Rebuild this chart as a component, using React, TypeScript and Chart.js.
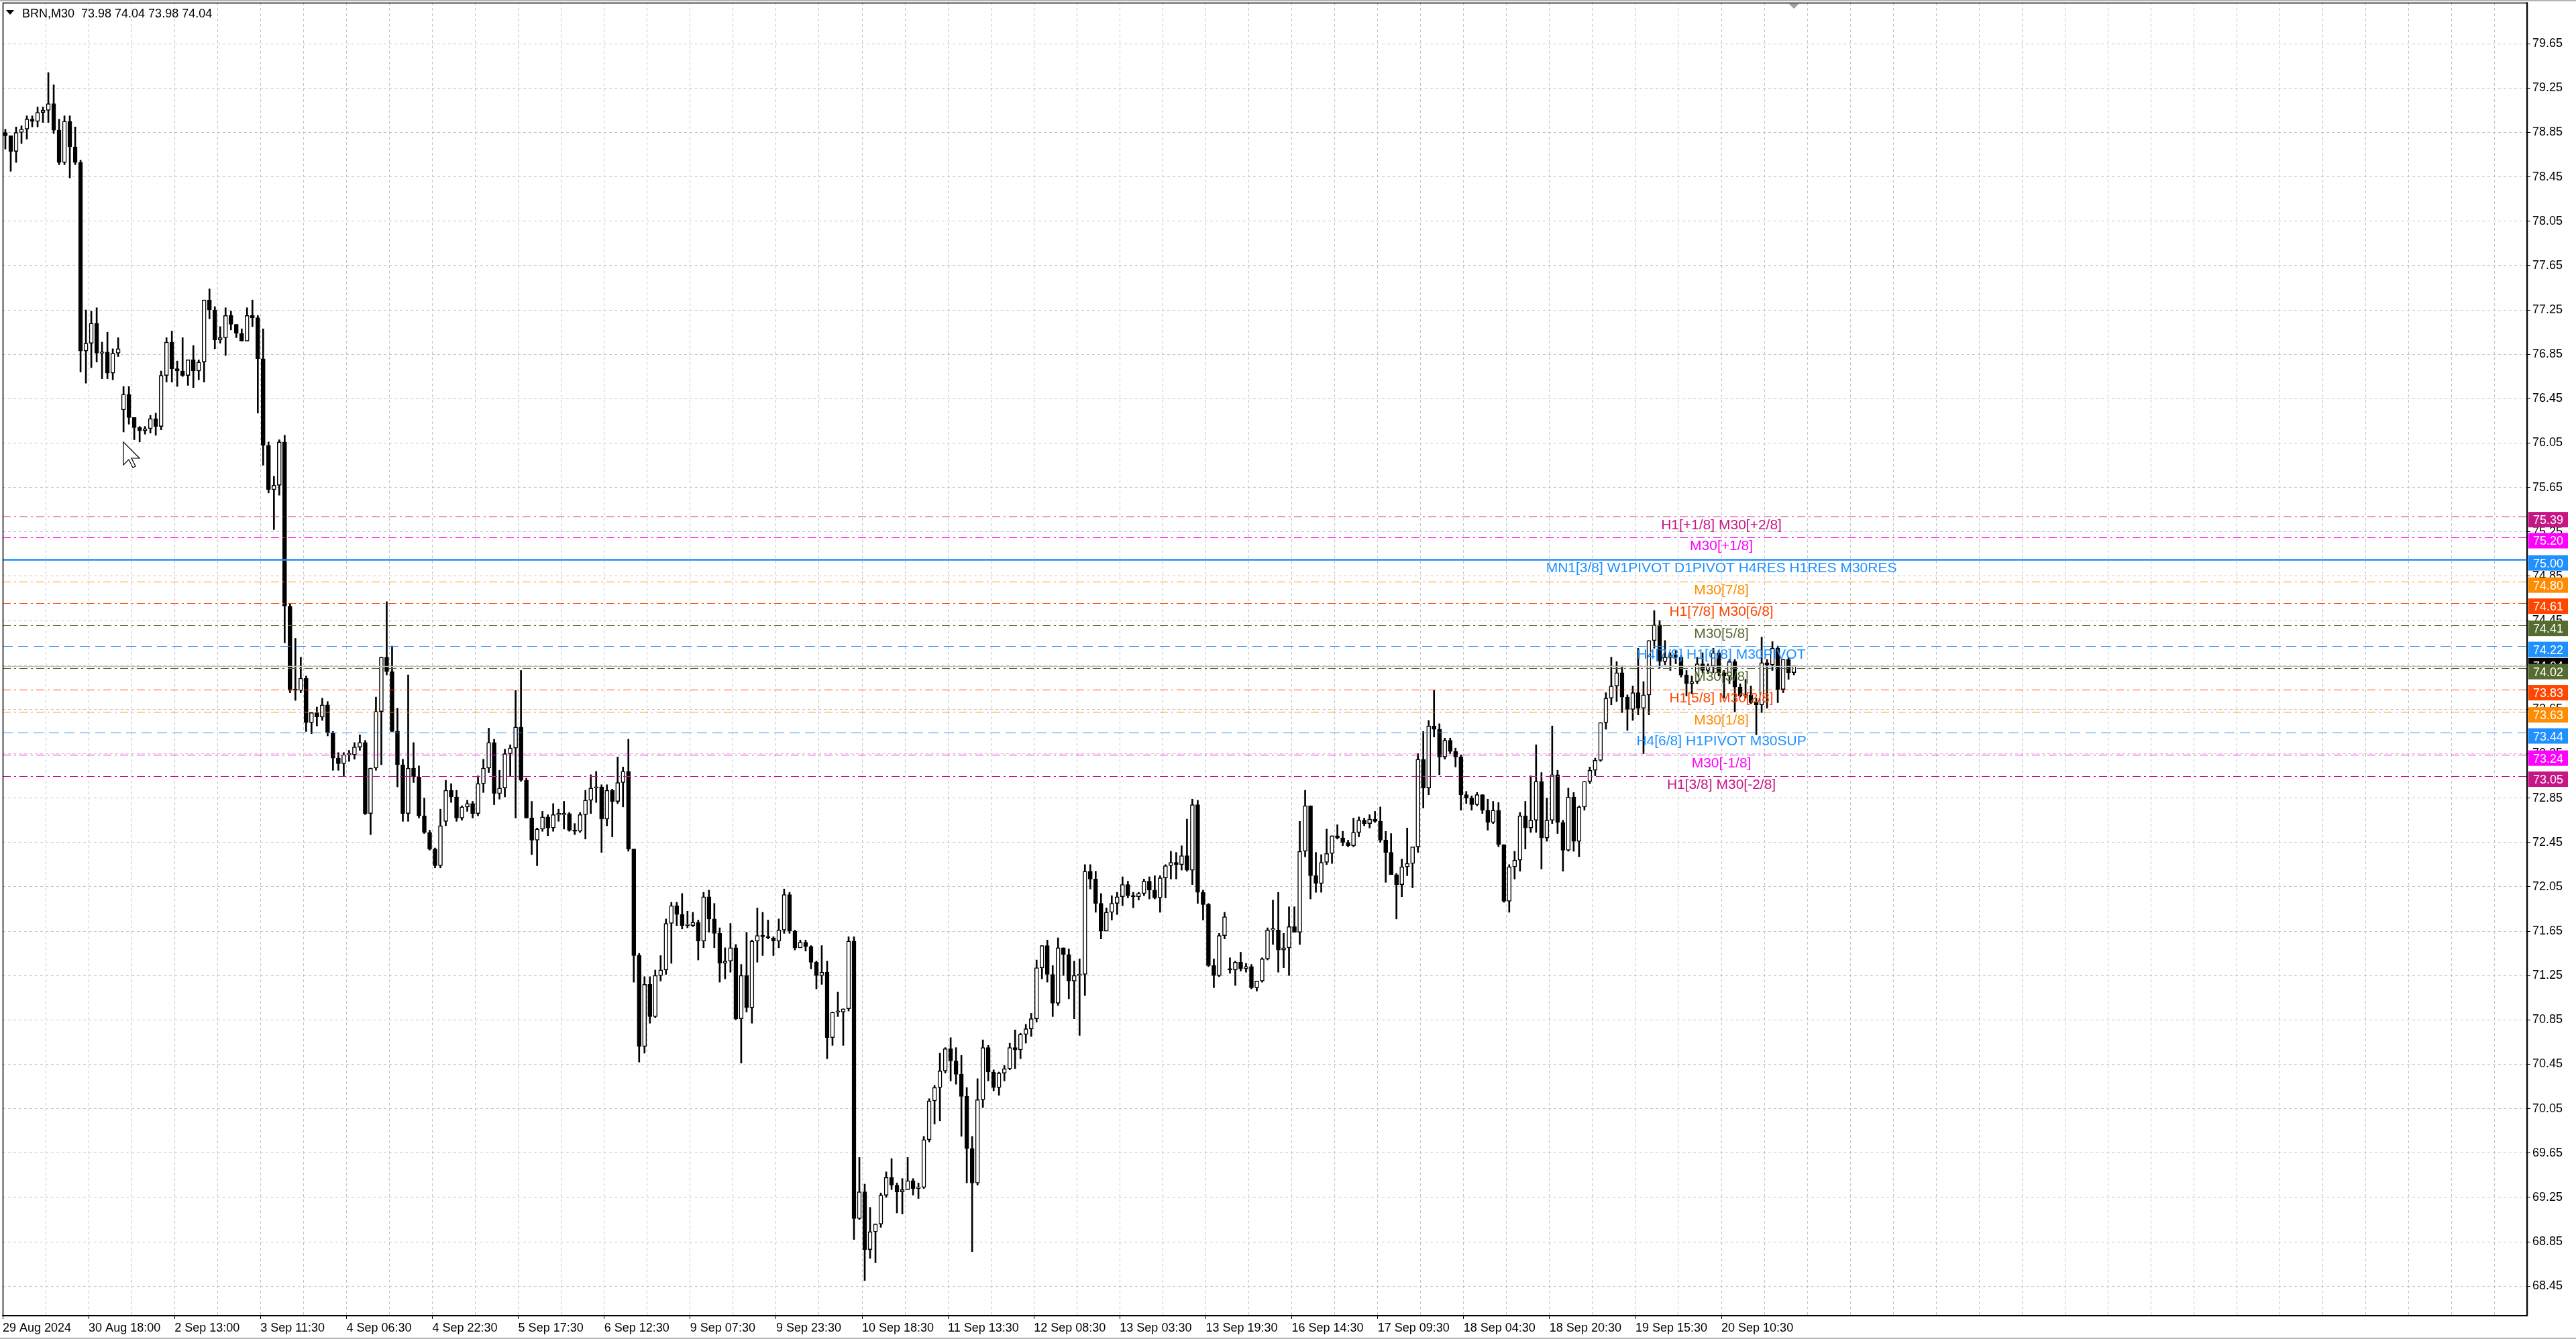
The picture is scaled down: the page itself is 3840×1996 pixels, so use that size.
import { useEffect, useRef } from "react"
import { Chart, registerables } from "chart.js"

Chart.register(...registerables)

const FONT = "'Liberation Sans', Arial, sans-serif"
const SLOT_COUNT = 470

const opens = [
  78.85, 78.82, 78.68, 78.85, 78.88, 78.97, 78.95, 79.03, 79.05, 79.11,
  78.87, 78.58, 78.95, 78.72, 78.58, 76.88, 76.95, 77.13, 76.86, 76.87,
  76.68, 76.86, 76.35, 76.49, 76.28, 76.19, 76.16, 76.18, 76.27, 76.20,
  76.66, 76.96, 76.72, 76.70, 76.66, 76.80, 76.70, 76.78, 77.34, 77.25,
  76.98, 77.00, 77.20, 77.12, 77.04, 76.97, 77.20, 77.18, 76.81, 76.03,
  75.63, 75.67, 76.06, 74.58, 73.82, 73.82, 73.93, 73.53, 73.62, 73.58,
  73.69, 73.44, 73.21, 73.16, 73.24, 73.24, 73.31, 73.35, 72.71, 73.12,
  73.63, 74.12, 73.99, 73.45, 73.15, 72.71, 73.12, 73.04, 72.69, 72.54,
  72.39, 72.24, 72.64, 72.92, 72.86, 72.67, 72.77, 72.80, 72.71, 72.98,
  73.12, 73.35, 72.89, 72.94, 73.25, 73.30, 73.49, 73.01, 72.67, 72.47,
  72.57, 72.68, 72.58, 72.70, 72.70, 72.71, 72.56, 72.55, 72.70, 72.83,
  72.94, 72.95, 72.66, 72.92, 72.82, 72.99, 73.09, 72.39, 71.43, 70.61,
  71.17, 70.88, 71.25, 71.30, 71.72, 71.88, 71.80, 71.70, 71.70, 71.73,
  71.56, 71.96, 71.76, 71.63, 71.36, 71.38, 71.50, 70.86, 71.25, 70.96,
  71.56, 71.61, 71.60, 71.59, 71.56, 71.66, 71.98, 71.65, 71.50, 71.55,
  71.51, 71.37, 71.25, 71.28, 70.69, 70.92, 70.92, 70.95, 71.56, 69.06,
  69.30, 68.78, 68.94, 69.01, 69.27, 69.43, 69.36, 69.30, 69.32, 69.40,
  69.33, 69.34, 69.77, 70.12, 70.24, 70.39, 70.59, 70.48, 70.36, 70.16,
  69.69, 69.38, 70.13, 70.60, 70.38, 70.24, 70.37, 70.41, 70.60, 70.58,
  70.72, 70.77, 70.86, 71.32, 71.52, 71.26, 71.00, 71.50, 71.44, 71.20,
  71.25, 71.26, 72.19, 72.12, 71.90, 71.65, 71.82, 71.90, 71.96, 72.07,
  71.97, 71.96, 71.99, 72.10, 72.02, 71.95, 72.13, 72.24, 72.27, 72.25,
  72.33, 72.20, 72.79, 72.00, 71.89, 71.34, 71.25, 71.61, 71.31, 71.30,
  71.37, 71.31, 71.33, 71.14, 71.20, 71.40, 71.66, 71.66, 71.48, 71.50,
  71.69, 71.64, 72.37, 72.78, 72.15, 72.08, 72.27, 72.35, 72.51, 72.49,
  72.45, 72.42, 72.54, 72.65, 72.62, 72.66, 72.64, 72.47, 72.36, 72.16,
  72.07, 72.23, 72.26, 72.41, 73.20, 72.94, 73.50, 73.47, 73.22, 73.37,
  73.27, 73.22, 72.88, 72.85, 72.79, 72.88, 72.74, 72.63, 72.74, 72.43,
  71.92, 72.23, 72.29, 72.69, 72.58, 72.65, 73.00, 72.49, 72.65, 73.06,
  72.63, 72.38, 72.86, 72.46, 72.77, 73.00, 73.10, 73.19, 73.53, 73.75,
  73.86, 73.98, 73.76, 73.65, 73.80, 73.66, 73.78, 74.27, 74.41, 74.08,
  74.12, 74.14, 74.12, 73.96, 73.88, 73.90, 74.06, 74.00, 74.04, 74.16,
  73.98, 73.95, 74.08, 73.85, 73.77, 73.78, 73.71, 73.69, 74.07, 74.05,
  74.20, 73.83, 74.10, 73.98,
]

const highs = [
  78.88, 78.82, 78.90, 78.91, 79.00, 79.00, 79.08, 79.08, 79.39, 79.28,
  78.97, 79.00, 79.00, 78.90, 78.60, 77.25, 77.24, 77.27, 76.96, 77.05,
  76.90, 77.00, 76.56, 76.56, 76.28, 76.20, 76.20, 76.30, 76.32, 76.70,
  77.00, 77.06, 76.79, 77.00, 76.80, 76.93, 76.80, 77.34, 77.44, 77.28,
  77.10, 77.27, 77.24, 77.12, 77.08, 77.27, 77.34, 77.20, 77.08, 76.06,
  75.75, 76.08, 76.12, 74.60, 74.29, 74.12, 73.95, 73.62, 73.67, 73.75,
  73.72, 73.45, 73.26, 73.26, 73.28, 73.35, 73.42, 73.37, 73.12, 73.76,
  74.12, 74.62, 74.22, 73.66, 73.20, 73.96, 73.35, 73.14, 72.85, 72.56,
  72.40, 72.75, 73.01, 72.98, 72.92, 72.78, 72.83, 72.82, 73.05, 73.20,
  73.48, 73.38, 73.10, 73.29, 73.33, 73.82, 74.00, 73.03, 72.82, 72.58,
  72.73, 72.70, 72.80, 72.75, 72.82, 72.72, 72.62, 72.72, 72.92, 73.06,
  73.09, 72.97, 72.97, 72.93, 73.22, 73.13, 73.38, 72.39, 71.45, 71.24,
  71.24, 71.30, 71.43, 71.76, 71.91, 71.91, 71.99, 71.83, 71.82, 71.75,
  72.00, 72.02, 71.90, 71.68, 71.50, 71.72, 71.53, 71.35, 71.64, 71.57,
  71.86, 71.82, 71.75, 71.60, 71.76, 72.03, 72.00, 71.66, 71.57, 71.57,
  71.52, 71.38, 71.52, 71.38, 70.92, 71.10, 70.95, 71.60, 71.60, 69.61,
  69.37, 69.16, 69.01, 69.29, 69.48, 69.60, 69.38, 69.42, 69.61, 69.42,
  69.38, 69.80, 70.14, 70.26, 70.55, 70.60, 70.69, 70.60, 70.53, 70.24,
  69.80, 70.32, 70.67, 70.62, 70.40, 70.38, 70.44, 70.64, 70.76, 70.73,
  70.81, 70.91, 71.39, 71.52, 71.57, 71.34, 71.59, 71.50, 71.49, 71.38,
  71.40, 72.25, 72.25, 72.19, 71.99, 71.86, 71.97, 72.00, 72.14, 72.10,
  72.00, 72.00, 72.12, 72.14, 72.15, 72.15, 72.25, 72.37, 72.36, 72.42,
  72.66, 72.84, 72.83, 72.02, 71.90, 71.40, 71.63, 71.82, 71.41, 71.38,
  71.46, 71.36, 71.35, 71.20, 71.41, 71.68, 71.93, 72.00, 71.63, 71.87,
  71.87, 72.64, 72.92, 72.78, 72.36, 72.34, 72.57, 72.51, 72.61, 72.55,
  72.47, 72.67, 72.68, 72.67, 72.70, 72.73, 72.77, 72.55, 72.53, 72.17,
  72.30, 72.58, 72.41, 73.25, 73.45, 73.55, 73.82, 73.52, 73.39, 73.39,
  73.30, 73.24, 72.91, 72.87, 72.90, 72.88, 72.84, 72.82, 72.81, 72.43,
  72.25, 72.37, 72.72, 72.82, 73.05, 73.33, 73.08, 72.85, 73.50, 73.10,
  72.65, 72.94, 72.90, 72.78, 73.00, 73.13, 73.21, 73.53, 73.80, 74.12,
  74.08, 74.04, 73.78, 73.86, 74.20, 73.90, 74.27, 74.54, 74.45, 74.27,
  74.16, 74.18, 74.14, 74.00, 73.95, 74.12, 74.16, 74.06, 74.20, 74.18,
  74.00, 74.10, 74.10, 73.88, 73.92, 73.86, 73.75, 74.30, 74.10, 74.26,
  74.22, 74.10, 74.12, 74.04,
]

const lows = [
  78.70, 78.50, 78.58, 78.75, 78.79, 78.90, 78.90, 78.94, 78.94, 78.84,
  78.56, 78.56, 78.44, 78.56, 76.69, 76.59, 76.73, 76.78, 76.63, 76.63,
  76.62, 76.83, 76.15, 76.22, 76.08, 76.06, 76.13, 76.14, 76.12, 76.17,
  76.60, 76.60, 76.56, 76.65, 76.57, 76.55, 76.62, 76.60, 77.17, 76.90,
  76.95, 76.84, 77.07, 77.00, 76.97, 76.97, 77.10, 76.32, 75.85, 75.60,
  75.27, 75.58, 74.25, 73.80, 73.73, 73.80, 73.45, 73.43, 73.50, 73.55,
  73.41, 73.10, 73.10, 73.05, 73.18, 73.20, 73.28, 72.70, 72.52, 73.10,
  73.15, 73.96, 73.45, 72.95, 72.64, 72.64, 72.99, 72.67, 72.53, 72.38,
  72.22, 72.22, 72.60, 72.81, 72.64, 72.65, 72.73, 72.67, 72.69, 72.90,
  73.08, 72.79, 72.84, 72.86, 73.05, 72.67, 73.00, 72.67, 72.34, 72.24,
  72.55, 72.51, 72.55, 72.64, 72.57, 72.55, 72.52, 72.54, 72.48, 72.71,
  72.81, 72.36, 72.60, 72.50, 72.80, 72.77, 72.37, 71.19, 70.47, 70.55,
  70.82, 70.87, 71.20, 71.26, 71.36, 71.70, 71.67, 71.68, 71.69, 71.39,
  71.50, 71.64, 71.50, 71.19, 71.22, 71.28, 70.85, 70.46, 70.92, 70.82,
  71.37, 71.43, 71.58, 71.43, 71.50, 71.63, 71.63, 71.48, 71.50, 71.47,
  71.31, 71.13, 71.17, 70.50, 70.62, 70.88, 70.62, 70.93, 68.87, 69.05,
  68.50, 68.70, 68.66, 68.98, 69.25, 69.32, 69.11, 69.10, 69.32, 69.27,
  69.24, 69.33, 69.75, 69.91, 69.94, 70.37, 70.30, 70.27, 69.80, 69.38,
  68.76, 69.36, 70.06, 70.30, 70.21, 70.17, 70.30, 70.40, 70.41, 70.50,
  70.64, 70.70, 70.83, 71.22, 71.19, 70.88, 70.98, 71.25, 71.04, 70.86,
  70.71, 71.07, 72.03, 71.82, 71.58, 71.65, 71.75, 71.80, 71.88, 71.95,
  71.86, 71.93, 71.97, 71.94, 71.94, 71.82, 71.95, 72.12, 72.12, 72.20,
  72.19, 72.07, 71.90, 71.75, 71.33, 71.14, 71.24, 71.58, 71.27, 71.16,
  71.29, 71.28, 71.13, 71.11, 71.19, 71.39, 71.53, 71.28, 71.32, 71.25,
  71.64, 71.53, 72.32, 71.94, 72.00, 72.00, 72.25, 72.26, 72.48, 72.42,
  72.41, 72.41, 72.50, 72.60, 72.58, 72.63, 72.45, 72.09, 72.16, 71.76,
  71.96, 72.15, 72.04, 72.36, 72.76, 72.88, 73.40, 73.06, 73.20, 73.25,
  73.13, 72.74, 72.80, 72.74, 72.78, 72.71, 72.56, 72.62, 72.41, 71.91,
  71.82, 72.12, 72.19, 72.39, 72.54, 72.54, 72.21, 72.46, 72.62, 72.53,
  72.19, 72.37, 72.37, 72.32, 72.74, 72.98, 73.05, 73.18, 73.47, 73.69,
  73.72, 73.62, 73.46, 73.55, 73.60, 73.25, 73.60, 74.20, 74.02, 74.05,
  74.00, 74.06, 73.94, 73.77, 73.79, 73.88, 73.98, 73.97, 73.98, 73.95,
  73.75, 73.88, 73.63, 73.76, 73.75, 73.70, 73.42, 73.62, 73.66, 74.00,
  73.71, 73.80, 73.92, 73.96,
]

const closes = [
  78.82, 78.68, 78.85, 78.88, 78.97, 78.95, 79.03, 79.05, 79.11, 78.87,
  78.58, 78.95, 78.72, 78.58, 76.88, 76.95, 77.13, 76.86, 76.87, 76.68,
  76.86, 76.90, 76.49, 76.28, 76.19, 76.16, 76.18, 76.27, 76.20, 76.66,
  76.96, 76.72, 76.70, 76.66, 76.80, 76.70, 76.78, 77.34, 77.25, 76.98,
  77.00, 77.20, 77.12, 77.04, 76.97, 77.20, 77.18, 76.81, 76.03, 75.63,
  75.67, 76.06, 74.58, 73.82, 73.82, 73.93, 73.53, 73.62, 73.58, 73.69,
  73.44, 73.21, 73.16, 73.24, 73.24, 73.31, 73.35, 72.71, 73.12, 73.63,
  74.12, 73.99, 73.45, 73.15, 72.71, 73.12, 73.04, 72.69, 72.54, 72.39,
  72.24, 72.60, 72.92, 72.86, 72.67, 72.77, 72.80, 72.71, 72.98, 73.12,
  73.35, 72.89, 72.94, 73.25, 73.30, 73.49, 73.01, 72.67, 72.47, 72.57,
  72.68, 72.58, 72.70, 72.70, 72.71, 72.56, 72.55, 72.70, 72.83, 72.94,
  72.95, 72.66, 72.92, 72.82, 72.99, 73.09, 72.39, 71.43, 70.61, 71.17,
  70.88, 71.25, 71.30, 71.72, 71.88, 71.80, 71.70, 71.70, 71.73, 71.56,
  71.96, 71.76, 71.63, 71.36, 71.38, 71.50, 70.86, 71.25, 70.96, 71.56,
  71.61, 71.60, 71.59, 71.56, 71.66, 71.98, 71.65, 71.50, 71.55, 71.51,
  71.37, 71.25, 71.28, 70.69, 70.92, 70.92, 70.95, 71.56, 69.06, 69.30,
  68.78, 68.94, 69.01, 69.27, 69.43, 69.36, 69.30, 69.32, 69.40, 69.33,
  69.34, 69.77, 70.12, 70.24, 70.39, 70.59, 70.48, 70.36, 70.16, 69.69,
  69.38, 70.13, 70.60, 70.38, 70.24, 70.37, 70.41, 70.60, 70.58, 70.72,
  70.77, 70.86, 71.32, 71.52, 71.26, 71.00, 71.50, 71.44, 71.20, 71.25,
  71.26, 72.19, 72.12, 71.90, 71.65, 71.82, 71.90, 71.96, 72.07, 71.97,
  71.96, 71.99, 72.10, 72.02, 71.95, 72.13, 72.24, 72.27, 72.25, 72.33,
  72.20, 72.79, 72.00, 71.89, 71.34, 71.25, 71.61, 71.78, 71.30, 71.37,
  71.31, 71.33, 71.14, 71.20, 71.40, 71.66, 71.66, 71.48, 71.50, 71.69,
  71.64, 72.37, 72.78, 72.15, 72.08, 72.27, 72.35, 72.51, 72.49, 72.45,
  72.42, 72.54, 72.65, 72.62, 72.66, 72.64, 72.47, 72.36, 72.16, 72.07,
  72.23, 72.26, 72.41, 73.20, 72.94, 73.50, 73.47, 73.22, 73.37, 73.27,
  73.22, 72.88, 72.85, 72.79, 72.88, 72.74, 72.63, 72.74, 72.43, 71.92,
  72.23, 72.29, 72.69, 72.58, 72.65, 73.00, 72.49, 72.65, 73.06, 72.63,
  72.38, 72.86, 72.46, 72.77, 73.00, 73.10, 73.19, 73.53, 73.75, 73.86,
  73.98, 73.76, 73.65, 73.80, 73.66, 73.78, 74.27, 74.41, 74.08, 74.12,
  74.14, 74.12, 73.96, 73.88, 73.90, 74.06, 74.00, 74.04, 74.16, 73.98,
  73.95, 74.08, 73.85, 73.77, 73.78, 73.71, 73.69, 74.07, 74.05, 74.20,
  73.83, 74.10, 73.98, 74.04,
]

// one label every 16 hourly slots, a grid line every 8
const timeLabels = [
  "29 Aug 2024", "30 Aug 18:00", "2 Sep 13:00", "3 Sep 11:30", "4 Sep 06:30",
  "4 Sep 22:30", "5 Sep 17:30", "6 Sep 12:30", "9 Sep 07:30", "9 Sep 23:30",
  "10 Sep 18:30", "11 Sep 13:30", "12 Sep 08:30", "13 Sep 03:30", "13 Sep 19:30",
  "16 Sep 14:30", "17 Sep 09:30", "18 Sep 04:30", "18 Sep 20:30", "19 Sep 15:30",
  "20 Sep 10:30",
]

const priceTicks = [
  68.45, 68.85, 69.25, 69.65, 70.05, 70.45, 70.85, 71.25, 71.65, 72.05,
  72.45, 72.85, 73.25, 73.65, 74.05, 74.45, 74.85, 75.25, 75.65, 76.05,
  76.45, 76.85, 77.25, 77.65, 78.05, 78.45, 78.85, 79.25, 79.65,
]

const levelPrices = [75.39, 75.2, 75.0, 74.8, 74.61, 74.41, 74.22, 74.02, 73.83, 73.63, 73.44, 73.24, 73.05]
const levelNames = [
  "H1[+1/8] M30[+2/8]",
  "M30[+1/8]",
  "MN1[3/8] W1PIVOT D1PIVOT H4RES H1RES M30RES",
  "M30[7/8]",
  "H1[7/8] M30[6/8]",
  "M30[5/8]",
  "H4[7/8] H1[6/8] M30PIVOT",
  "M30[3/8]",
  "H1[5/8] M30[2/8]",
  "M30[1/8]",
  "H4[6/8] H1PIVOT M30SUP",
  "M30[-1/8]",
  "H1[3/8] M30[-2/8]",
]
const levelColors = [
  "#c71585", "#ff00ff", "#1e90ff", "#ff8c00", "#ff4500", "#556b2f", "#1e90ff",
  "#556b2f", "#ff4500", "#ff8c00", "#1e90ff", "#ff00ff", "#c71585",
]
const levelStyles = [
  "dashdot", "dashdot", "solid", "dashdot", "dashdot", "dashdot", "dash",
  "dashdot", "dashdot", "dashdot", "dash", "dashdot", "dashdot",
]

const bidPrice = 74.04
const lastBar = "BRN,M30  73.98 74.04 73.98 74.04"
const levelTextSlot = 319.5

const dashFor = (s: string) => (s === "dash" ? [15, 8] : s === "dashdot" ? [12, 5, 3, 5] : [])

const overlayPlugin = {
  id: "mtOverlay",
  afterDatasetsDraw(chart: any) {
    const { ctx, chartArea: a } = chart
    const ys = chart.scales.y
    const xs = chart.scales.x
    ctx.save()
    ctx.beginPath()
    ctx.rect(a.left, a.top, a.right - a.left, a.bottom - a.top)
    ctx.clip()

    // bid line
    const bidY = Math.round(ys.getPixelForValue(bidPrice)) + 0.5
    ctx.strokeStyle = "#c0c0c0"
    ctx.lineWidth = 1.5
    ctx.beginPath()
    ctx.moveTo(a.left, bidY)
    ctx.lineTo(a.right, bidY)
    ctx.stroke()

    levelPrices.forEach((p, i) => {
      const y = Math.round(ys.getPixelForValue(p)) + 0.5
      ctx.strokeStyle = levelColors[i]
      ctx.lineWidth = levelStyles[i] === "solid" ? 2.5 : 1.2
      ctx.setLineDash(dashFor(levelStyles[i]))
      ctx.beginPath()
      ctx.moveTo(a.left, y)
      ctx.lineTo(a.right, y)
      ctx.stroke()
    })
    ctx.setLineDash([])

    const cx = xs.getPixelForValue(levelTextSlot)
    ctx.font = `21px ${FONT}`
    ctx.textAlign = "center"
    ctx.textBaseline = "top"
    levelPrices.forEach((p, i) => {
      ctx.fillStyle = levelColors[i]
      ctx.fillText(levelNames[i], cx, ys.getPixelForValue(p) + 3)
    })
    ctx.restore()
  },
  afterDraw(chart: any) {
    const { ctx, chartArea: a } = chart
    const ys = chart.scales.y
    const xs = chart.scales.x
    ctx.save()

    // price boxes on the right scale (level boxes hang a little below their line)
    const boxX = a.right + 2
    const drawBox = (p: number, color: string, shift: number) => {
      const y = ys.getPixelForValue(p) + shift
      ctx.fillStyle = color
      ctx.fillRect(boxX, y - 12, 59, 23)
      ctx.fillStyle = "#ffffff"
      ctx.font = `18px ${FONT}`
      ctx.textAlign = "left"
      ctx.textBaseline = "middle"
      ctx.fillText(p.toFixed(2), boxX + 7, y + 1)
    }
    drawBox(bidPrice, "#000000", 0)
    levelPrices.forEach((p, i) => drawBox(p, levelColors[i], 5.5))

    // frame
    ctx.strokeStyle = "#000000"
    ctx.lineWidth = 1.5
    ctx.strokeRect(a.left + 0.5, a.top + 0.5, a.right - a.left, a.bottom - a.top)
    ctx.fillStyle = "#b4b4b4"
    ctx.fillRect(0, 0, chart.width, 2)
    ctx.fillRect(0, chart.height - 2, chart.width, 2)

    // chart shift marker
    const sx = xs.getPixelForValue(opens.length - 1)
    ctx.fillStyle = "#a0a0a0"
    ctx.beginPath()
    ctx.moveTo(sx - 8, a.top + 1)
    ctx.lineTo(sx + 8, a.top + 1)
    ctx.lineTo(sx, a.top + 9)
    ctx.closePath()
    ctx.fill()

    // header
    ctx.fillStyle = "#000000"
    ctx.beginPath()
    ctx.moveTo(9, 15)
    ctx.lineTo(21, 15)
    ctx.lineTo(15, 22)
    ctx.closePath()
    ctx.fill()
    ctx.font = `18px ${FONT}`
    ctx.textAlign = "left"
    ctx.textBaseline = "alphabetic"
    ctx.fillText(lastBar, 33, 26)

    // mouse pointer left on the picture
    const px = 184
    const py = 659
    const s = 2
    const arrow = [[0, 0], [0, 17], [4, 13], [7, 19], [9, 18], [6, 12], [12, 12]]
    ctx.beginPath()
    arrow.forEach(([u, v], i) => (i ? ctx.lineTo(px + u * s, py + v * s) : ctx.moveTo(px + u * s, py + v * s)))
    ctx.closePath()
    ctx.fillStyle = "#ffffff"
    ctx.fill()
    ctx.strokeStyle = "#000000"
    ctx.lineWidth = 1.2
    ctx.stroke()

    ctx.restore()
  },
}

export default function App() {
  const canvasRef = useRef<HTMLCanvasElement>(null)
  const chartRef = useRef<Chart | null>(null)

  useEffect(() => {
    document.body.style.margin = "0"
    if (!canvasRef.current) return
    if (chartRef.current) chartRef.current.destroy()

    const wicks = highs.map((h, i) => ({ x: i, y: [lows[i], h] }))
    const bodies = opens.map((o, i) => ({ x: i, y: [o, closes[i]] }))
    const bodyColors = opens.map((o, i) => (closes[i] >= o ? "#ffffff" : "#000000"))

    chartRef.current = new Chart(canvasRef.current, {
      type: "bar",
      data: {
        datasets: [
          {
            data: wicks as any,
            backgroundColor: "#000000",
            borderWidth: 0,
            barThickness: 2,
            grouped: false,
            order: 2,
          },
          {
            data: bodies as any,
            backgroundColor: bodyColors,
            borderColor: "#000000",
            borderWidth: 1.5,
            borderSkipped: false,
            barThickness: 6,
            minBarLength: 2,
            grouped: false,
            order: 1,
          },
        ],
      },
      options: {
        animation: false,
        responsive: true,
        maintainAspectRatio: false,
        events: [],
        layout: { padding: { left: 4, top: 4, right: 0, bottom: 0 } },
        plugins: {
          legend: { display: false },
          tooltip: { enabled: false },
        },
        scales: {
          x: {
            type: "linear",
            offset: false,
            min: -0.5,
            max: SLOT_COUNT - 0.5,
            afterBuildTicks: (s: any) => {
              const t = []
              for (let v = -0.5; v < SLOT_COUNT; v += 8) t.push({ value: v })
              s.ticks = t
            },
            afterFit: (s: any) => {
              s.height = 35
              s.paddingLeft = 0
              s.paddingRight = 0
            },
            ticks: {
              autoSkip: false,
              maxRotation: 0,
              minRotation: 0,
              align: "start",
              padding: 3,
              color: "#000000",
              font: { family: FONT, size: 18 },
              callback: (_v: any, i: number) => (i % 2 === 0 && timeLabels[i / 2]) || "",
            },
            grid: {
              offset: false,
              color: "#c4c4c4",
              lineWidth: 1,
              tickLength: 5,
              tickColor: (c: any) =>
                c.index % 2 === 0 && c.index / 2 < timeLabels.length ? "#000000" : "rgba(0,0,0,0)",
            },
            border: { display: true, color: "#000000", width: 1.5, dash: [4, 4] },
          },
          y: {
            position: "right",
            min: 68.185,
            max: 80.02,
            afterBuildTicks: (s: any) => {
              s.ticks = priceTicks.map((v) => ({ value: v }))
            },
            afterFit: (s: any) => {
              s.width = 73
              s.paddingTop = 0
              s.paddingBottom = 0
            },
            ticks: {
              color: "#000000",
              font: { family: FONT, size: 18 },
              padding: 3,
              callback: (v: any) => Number(v).toFixed(2),
            },
            grid: { color: "#c4c4c4", lineWidth: 1, tickLength: 5, tickColor: "#000000" },
            border: { display: true, color: "#000000", width: 1.5, dash: [4, 4] },
          },
        },
      },
      plugins: [overlayPlugin],
    })

    return () => {
      if (chartRef.current) {
        chartRef.current.destroy()
        chartRef.current = null
      }
    }
  }, [])

  return (
    <div style={{ position: "absolute", left: 0, top: 0, width: 3840, height: 1996, background: "#ffffff" }}>
      <canvas ref={canvasRef} />
    </div>
  )
}
